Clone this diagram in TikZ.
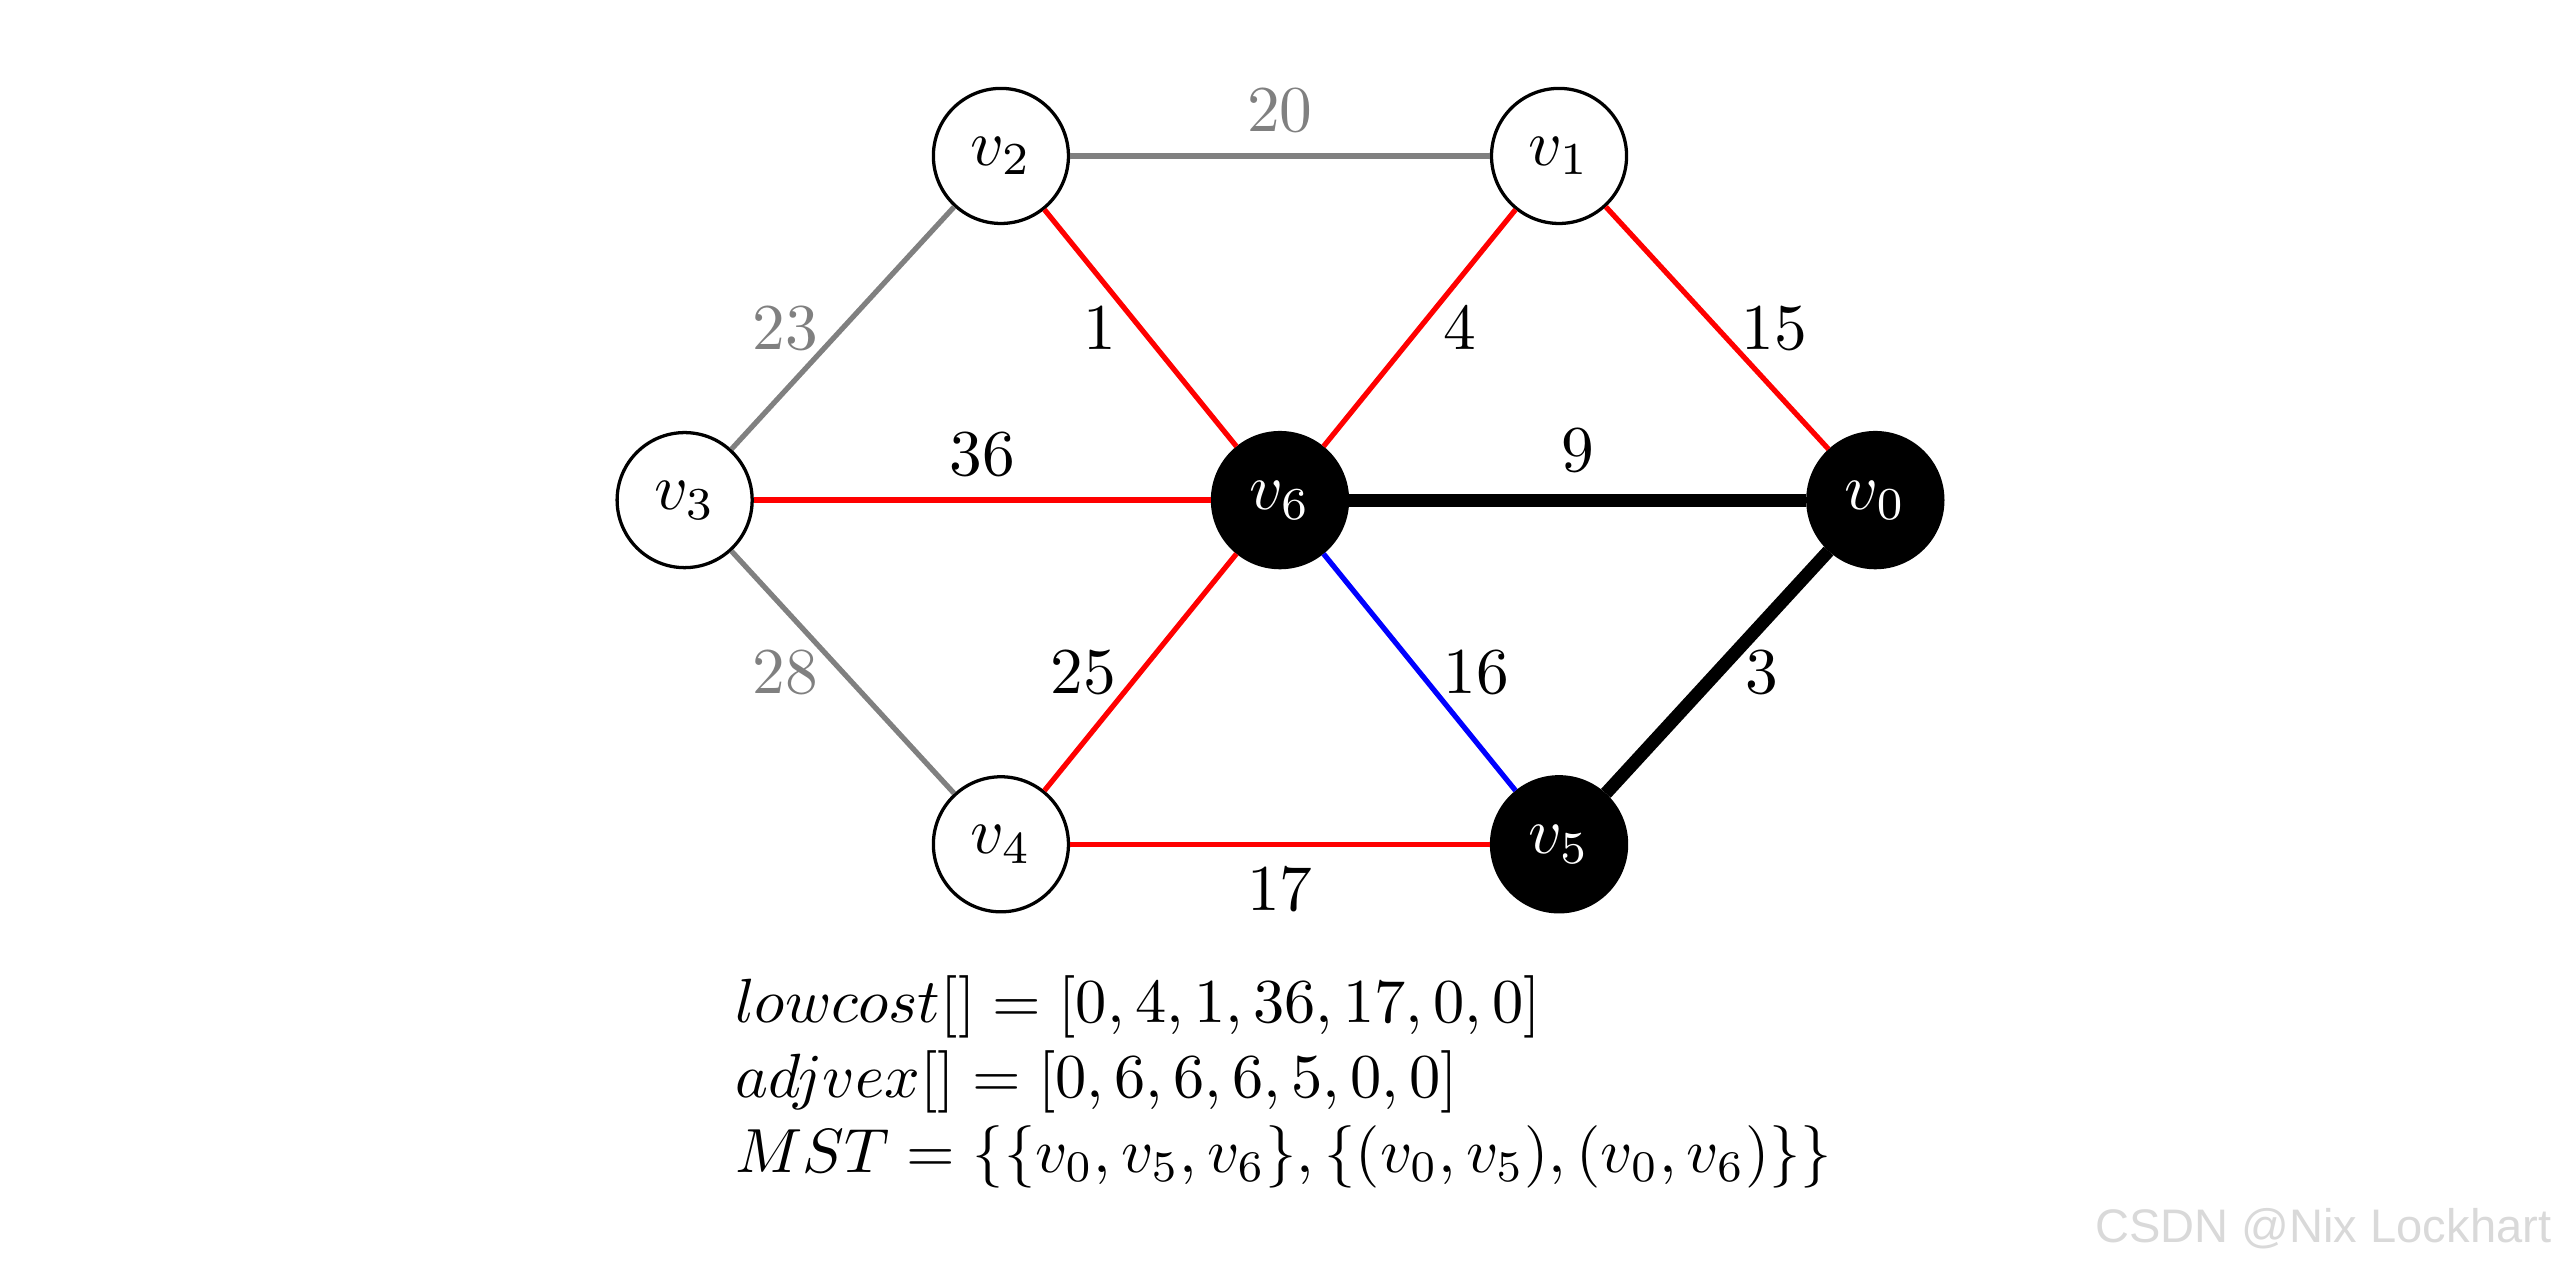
\documentclass[tikz,border=0pt]{standalone}
\usepackage{amsmath}
\usepackage{amssymb}
\usepackage{fontspec}
\usepackage{tikz}
\usepackage{xcolor}
\newfontfamily\markfont{Liberation Sans}

\begin{document}
\begin{tikzpicture}[scale=1,
  vertex/.style={draw=black,circle,line width=0.5pt,minimum size=0.726cm,inner sep=0pt},
  done/.style={vertex,fill=black,text=white},
  unused/.style={draw=gray,thick},
  cand/.style={draw=red,thick},
  pick/.style={draw=blue,thick},
  tree/.style={draw=black,line width=2pt},
  costlabel/.style={inner sep=0.3333em},
  result/.style={anchor=base west,inner sep=0pt,scale=0.955,transform shape}]
\useasboundingbox (-6.88,-4.118) rectangle (6.88,2.688);
\node[vertex] (v2) at (-1.5,1.85) {$v_2$};
\node[vertex] (v1) at (1.5,1.85) {$v_1$};
\node[vertex] (v3) at (-3.2,0) {$v_3$};
\node[done] (v6) at (0,0) {$v_6$};
\node[done] (v0) at (3.2,0) {$v_0$};
\node[vertex] (v4) at (-1.5,-1.85) {$v_4$};
\node[done] (v5) at (1.5,-1.85) {$v_5$};
\draw[unused] (v2) -- node[costlabel,above,text=gray] {$20$} (v1);
\draw[unused] (v3) -- node[costlabel,left,text=gray] {$23$} (v2);
\draw[unused] (v3) -- node[costlabel,left,text=gray] {$28$} (v4);
\draw[cand] (v2) -- node[costlabel,left] {$1$} (v6);
\draw[cand] (v1) -- node[costlabel,right] {$4$} (v6);
\draw[cand] (v1) -- node[costlabel,right] {$15$} (v0);
\draw[cand] (v3) -- node[costlabel,above] {$36$} (v6);
\draw[cand] (v4) -- node[costlabel,left] {$25$} (v6);
\draw[cand] (v4) -- node[costlabel,below] {$17$} (v5);
\draw[pick] (v6) -- node[costlabel,right] {$16$} (v5);
\draw[tree] (v6) -- node[costlabel,above] {$9$} (v0);
\draw[tree] (v5) -- node[costlabel,right] {$3$} (v0);
\node[result] (lowcost) at (-2.935,-2.806) {$lowcost[]=[0,4,1,36,17,0,0]$};
\node[result] (adjvex) at (-2.935,-3.21) {$adjvex[]=[0,6,6,6,5,0,0]$};
\node[result] (mst) at (-2.935,-3.613) {$MST=\{\{v_0,v_5,v_6\},\{(v_0,v_5),(v_0,v_6)\}\}$};
\node[anchor=base east,inner sep=0pt,text=gray!30] (mark) at (6.84,-3.99) {\markfont\fontsize{7.2}{8}\selectfont CSDN @Nix Lockhart};
\end{tikzpicture}
\end{document}
